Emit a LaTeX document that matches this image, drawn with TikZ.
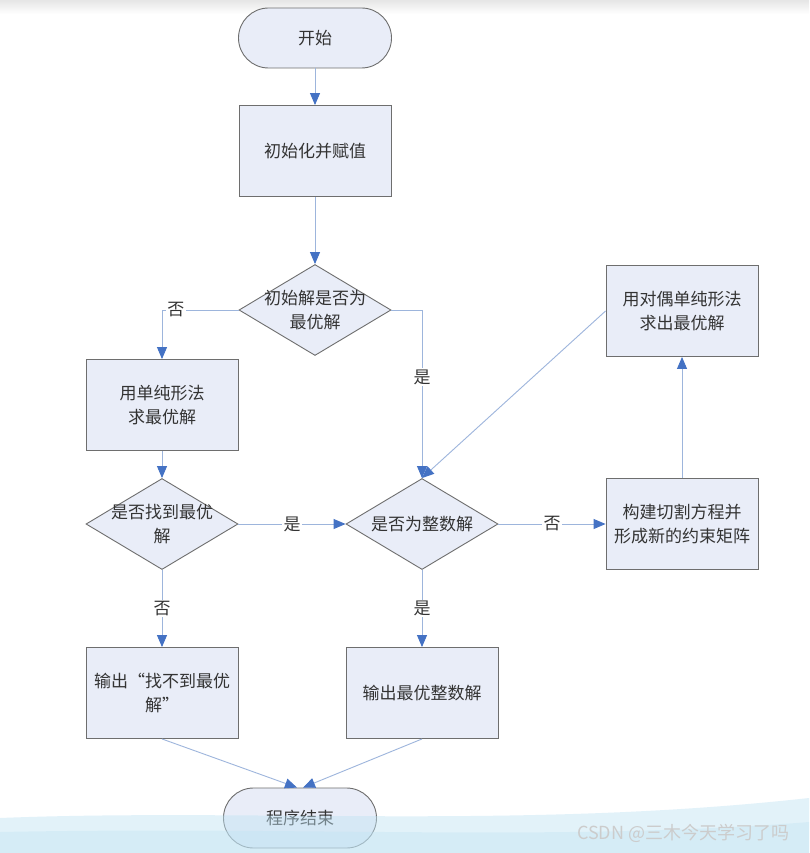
\documentclass[tikz,border=0pt]{standalone}
\usepackage{fontspec}
\newfontfamily\cjk{Noto Sans CJK SC}
\usetikzlibrary{arrows.meta,shapes.geometric}
\definecolor{boxfill}{HTML}{E9EDF8}
\definecolor{boxline}{HTML}{6E6E6E}
\definecolor{lineblue}{HTML}{9DB5DC}
\definecolor{headblue}{HTML}{4472C4}
\definecolor{txt}{HTML}{333333}
\definecolor{wave}{HTML}{BFE3F3}
\tikzset{
  base/.style={draw=boxline, fill=boxfill, line width=0.9pt, inner sep=0pt},
  stadium/.style={base, rectangle, rounded corners=30pt, minimum width=153pt, minimum height=60pt},
  procbox/.style={base, rectangle, minimum width=152pt, minimum height=91pt},
  decide/.style={base, diamond, minimum width=152pt, minimum height=91pt},
  txtnode/.style={font=\cjk\fontsize{17}{23.5}\selectfont, text=txt, align=center, inner sep=0pt},
  arr/.style={draw=lineblue, line width=0.9pt, -{Triangle[length=12pt,width=10pt,color=headblue]}},
  lbl/.style={font=\cjk\fontsize{17}{20}\selectfont, text=txt, fill=white, inner sep=1.5pt}
}
\begin{document}
\begin{tikzpicture}[x=1pt,y=-1pt]
\useasboundingbox (0,0) rectangle (809,853);
\fill[white] (0,0) rectangle (809,853);
\shade[top color=black!10, bottom color=white] (0,0) rectangle (809,14);

% nodes
\node[stadium] (start) at (315,38) {};
\node[txtnode] at (start) {开始};
\node[procbox] (init) at (315,151) {};
\node[txtnode] at (init) {初始化并赋值};
\node[decide] (d1) at (315,310) {};
\node[txtnode] at (d1) {初始解是否为\\最优解};
\node[procbox] (r1) at (162,405) {};
\node[txtnode] at (r1) {用单纯形法\\求最优解};
\node[decide] (d3) at (162,524) {};
\node[txtnode] at (d3) {是否找到最优\\解};
\node[decide] (d2) at (422,524) {};
\node[txtnode] at (d2) {是否为整数解};
\node[procbox] (r3) at (682,524) {};
\node[txtnode] at (r3) {构建切割方程并\\形成新的约束矩阵};
\node[procbox] (r2) at (682,311) {};
\node[txtnode] at (r2) {用对偶单纯形法\\求出最优解};
\node[procbox] (o1) at (162,693) {};
\node[txtnode] at (o1) {输出“找不到最优\\解”};
\node[procbox] (o2) at (422,693) {};
\node[txtnode] at (o2) {输出最优整数解};
\node[stadium] (end) at (300,818) {};
\node[txtnode] at (end) {程序结束};

% connectors
\draw[arr] (start) -- (init);
\draw[arr] (init) -- (d1.north);
\draw[arr] (d1.west) -| node[lbl, pos=0.41] {否} (r1.north);
\draw[arr] (d1.east) -| node[lbl, pos=0.70] {是} (d2.north);
\draw[arr] (r1) -- (d3.north);
\draw[arr] (d3.east) -- node[lbl] {是} (d2.west);
\draw[arr] (d2.east) -- node[lbl] {否} (r3.west);
\draw[arr] (r3) -- (r2);
\draw[arr] (r2.west) -- (d2.north);
\draw[arr] (d3.south) -- node[lbl] {否} (o1.north);
\draw[arr] (d2.south) -- node[lbl] {是} (o2.north);
\draw[arr] (o1.south) -- ([xshift=-3pt]end.north);
\draw[arr] (o2.south) -- ([xshift=3pt]end.north);

% bottom wave and watermark
\fill[wave, opacity=0.45] (0,818) .. controls (250,808) and (520,830) .. (809,798) -- (809,853) -- (0,853) -- cycle;
\fill[wave, opacity=0.35] (0,832) .. controls (300,826) and (560,842) .. (809,822) -- (809,853) -- (0,853) -- cycle;
\node[font=\cjk\fontsize{18}{20}\selectfont, text=black!20, anchor=west, inner sep=0pt] (wm) at (577,833) {CSDN @三木今天学习了吗};
\end{tikzpicture}
\end{document}
